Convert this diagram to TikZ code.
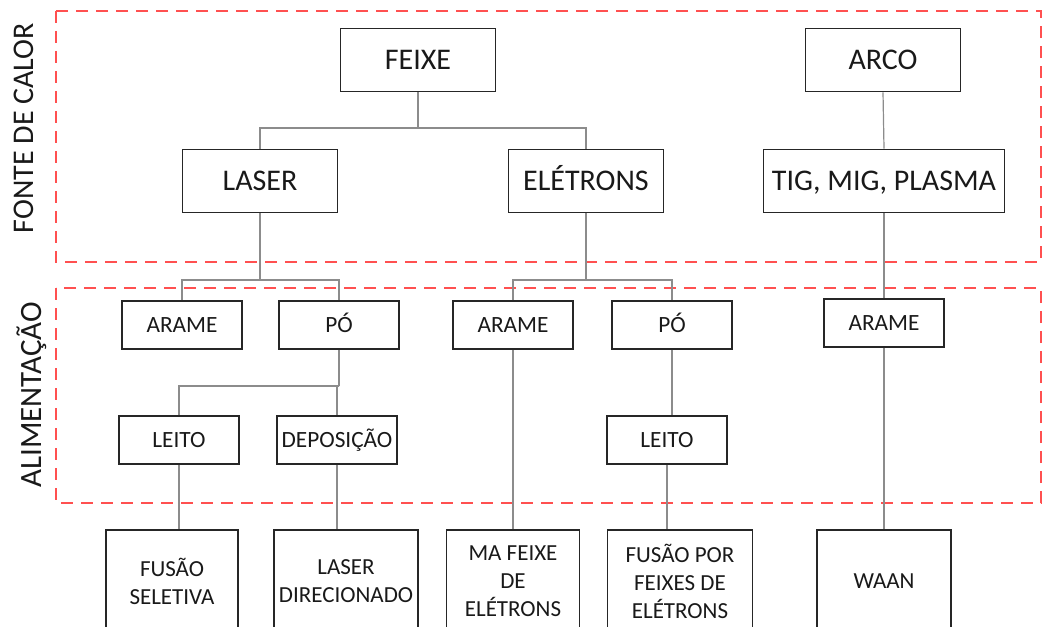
\documentclass[tikz,border=0pt]{standalone}
\usepackage{fontspec}
\setmainfont{Carlito}
\usepackage{tikz}

\definecolor{zonered}{RGB}{255,80,80}

\begin{document}
\begin{tikzpicture}[x=1pt, y=-1pt,
  box/.style={draw=black!85, line width=1.8pt, inner sep=0pt, align=center, text=black!90},
  heatbox/.style={box, minimum width=155pt, minimum height=63pt, text height=19.3pt, text depth=0pt, font=\fontsize{30}{34}\selectfont},
  feedbox/.style={box, minimum width=120pt, minimum height=48pt, text height=15pt, text depth=0pt, font=\fontsize{23.3}{28}\selectfont},
  procbox/.style={box, minimum height=102pt, font=\fontsize{23}{28}\selectfont},
  conn/.style={draw=black!45, line width=1.2pt},
  zone/.style={draw=zonered, line width=1.8pt, dash pattern=on 12pt off 8pt}]
  \clip (0,0) rectangle (1043,626);

  % --- 1. Zones ---
  \draw[zone] (56,11) rectangle (1041,262);
  \draw[zone] (56,288) rectangle (1041,503);
  \node[rotate=90, text=black!90, font=\fontsize{30}{32}\selectfont] (fonte) at (24,128) {FONTE DE CALOR};
  \node[rotate=90, text=black!90, font=\fontsize{31}{32}\selectfont] (alim) at (32,395) {ALIMENTAÇÃO};

  % --- 2. Heat sources ---
  \node[heatbox] (feixe) at (418,60) {FEIXE};
  \node[heatbox] (arco) at (883,60) {ARCO};
  \node[heatbox] (laser) at (260,181) {LASER};
  \node[heatbox] (eletrons) at (586,181) {ELÉTRONS};
  \node[heatbox, minimum width=241pt] (tig) at (884,181) {TIG, MIG, PLASMA};

  % --- 3. Feedstock ---
  \node[feedbox] (arame1) at (182,325) {ARAME};
  \node[feedbox] (po1) at (339,325) {PÓ};
  \node[feedbox] (arame2) at (513,325) {ARAME};
  \node[feedbox] (po2) at (672,325) {PÓ};
  \node[feedbox] (arame3) at (884,323) {ARAME};
  \node[feedbox] (leito1) at (179,440) {LEITO};
  \node[feedbox] (depos) at (337,440) {DEPOSIÇÃO};
  \node[feedbox] (leito2) at (667,440) {LEITO};

  % --- 4. Processes (cut at the bottom) ---
  \node[procbox, minimum width=132pt] (fusao1) at (172,581) {FUSÃO\\SELETIVA};
  \node[procbox, minimum width=144pt] (laserdir) at (346,581) {LASER\\DIRECIONADO};
  \node[procbox, minimum width=133pt] (mafeixe) at (513,581) {MA FEIXE\\DE\\ELÉTRONS};
  \node[procbox, minimum width=145pt] (fusaopor) at (680,581) {FUSÃO POR\\FEIXES DE\\ELÉTRONS};
  \node[procbox, minimum width=134pt] (waan) at (884,581) {WAAN};

  % --- 5. Connectors ---
  \coordinate (fbar) at (418,128);
  \draw[conn] (feixe.south) -- (fbar);
  \draw[conn] (laser.north) |- (fbar) -| (eletrons.north);
  \draw[conn] (arco.south) -- (tig.north);

  \coordinate (lbar) at (260,280);
  \draw[conn] (laser.south) -- (lbar);
  \draw[conn] (arame1.north) |- (lbar) -| (po1.north);

  \coordinate (ebar) at (586,280);
  \draw[conn] (eletrons.south) -- (ebar);
  \draw[conn] (arame2.north) |- (ebar) -| (po2.north);

  \draw[conn] (tig.south) -- (arame3.north);

  \coordinate (pbar) at (339,386);
  \draw[conn] (po1.south) -- (pbar);
  \draw[conn] (leito1.north) |- (pbar) -| (depos.north);
  \draw[conn] (po2.south) -- (po2.south |- leito2.north);

  \draw[conn] (leito1.south) -- (leito1.south |- fusao1.north);
  \draw[conn] (depos.south) -- (depos.south |- laserdir.north);
  \draw[conn] (arame2.south) -- (mafeixe.north);
  \draw[conn] (leito2.south) -- (leito2.south |- fusaopor.north);
  \draw[conn] (arame3.south) -- (waan.north);

\end{tikzpicture}
\end{document}
